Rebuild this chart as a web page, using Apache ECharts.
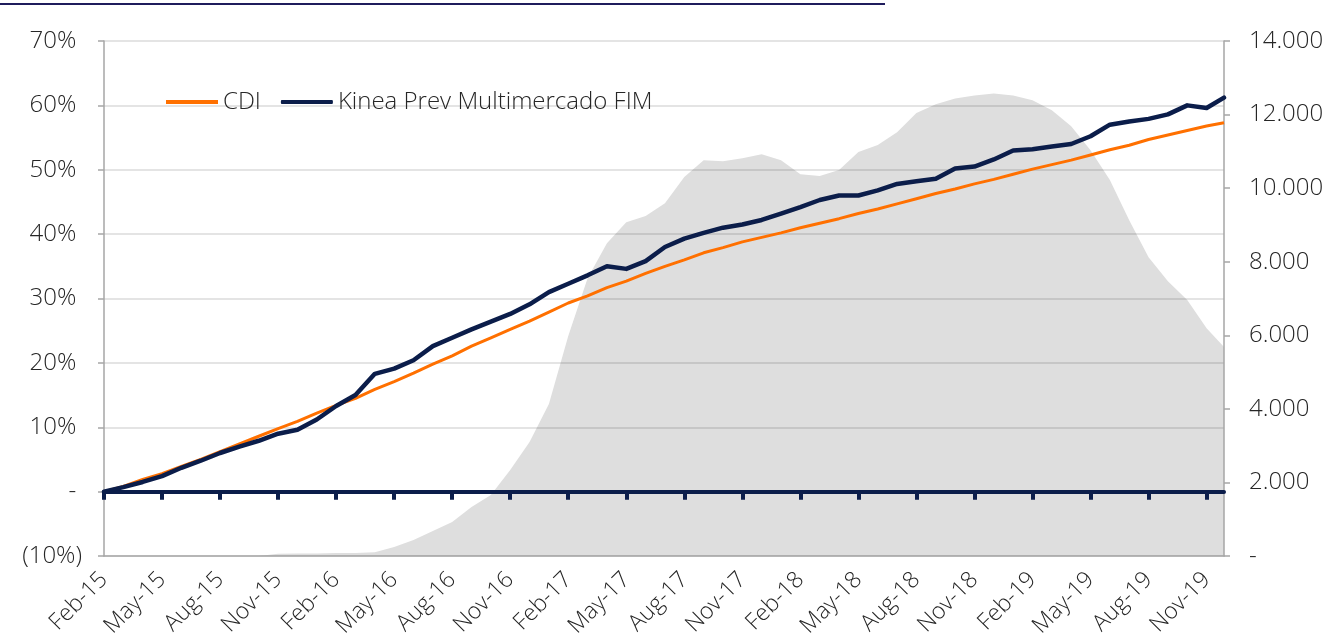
<!DOCTYPE html>
<html><head><meta charset="utf-8">
<script src="https://cdn.jsdelivr.net/npm/echarts@6/dist/echarts.min.js"></script>
<style>html,body{margin:0;padding:0;background:#fff}#c{width:1326px;height:638px}</style>
</head><body><div id="c"></div>
<script>
// x position: months elapsed since the start of Feb-2015
const months = [0,1,2,3,4,5,6,7,8,9,10,11,12,13,14,15,16,17,18,19,20,21,22,23,24,25,26,27,28,29,30,31,32,33,34,35,36,37,38,39,40,41,42,43,44,45,46,47,48,49,50,51,52,53,54,55,56,57,57.9];
const tickMonths = [0,3,6,9,12,15,18,21,24,27,30,33,36,39,42,45,48,51,54,57];
const tickLabels = ['Feb-15','May-15','Aug-15','Nov-15','Feb-16','May-16','Aug-16','Nov-16','Feb-17','May-17','Aug-17','Nov-17','Feb-18','May-18','Aug-18','Nov-18','Feb-19','May-19','Aug-19','Nov-19'];
// cumulative return, %
const cdi = [0.0,0.8,1.9,2.8,3.9,5.0,6.2,7.4,8.6,9.8,10.9,12.2,13.4,14.5,15.9,17.1,18.4,19.8,21.1,22.6,23.9,25.2,26.5,27.9,29.3,30.4,31.7,32.7,33.9,35.0,36.0,37.1,37.9,38.8,39.5,40.2,41.0,41.7,42.4,43.2,43.9,44.7,45.5,46.3,47.0,47.8,48.5,49.3,50.1,50.8,51.5,52.3,53.1,53.8,54.7,55.4,56.1,56.8,57.3];
const kinea = [0.0,0.7,1.5,2.4,3.7,4.8,6.0,7.0,7.9,9.0,9.6,11.2,13.3,15.0,18.3,19.1,20.4,22.6,23.9,25.2,26.4,27.6,29.1,31.0,32.3,33.6,35.0,34.6,35.8,38.0,39.3,40.2,41.0,41.5,42.2,43.2,44.2,45.3,46.0,46.0,46.8,47.8,48.2,48.6,50.2,50.5,51.6,53.0,53.2,53.6,54.0,55.2,57.0,57.5,57.9,58.6,60.0,59.6,61.2];
// net assets (right axis)
const aum = [0,0,0,0,0,0,0,0,0,60,70,70,80,80,100,245,435,680,925,1330,1660,2340,3100,4130,5980,7550,8500,9075,9240,9590,10300,10760,10730,10810,10920,10760,10380,10330,10490,10980,11170,11520,12040,12280,12440,12520,12570,12520,12390,12120,11680,11030,10220,9130,8120,7470,6960,6190,5680];

const FONT = '"Open Sans", "Noto Sans", sans-serif';
const TXT = '#262626';
const NAVY = '#0b1d4a';
const ORANGE = '#ff7000';
const AXISGRAY = '#a6a6a6';
const pair = arr => months.map((m, i) => [m, arr[i]]);

const chart = echarts.init(document.getElementById('c'), null, {renderer: 'canvas'});
chart.setOption({
  animation: false,
  backgroundColor: '#ffffff',
  textStyle: {fontFamily: FONT},
  graphic: [{type: 'rect', left: 0, top: 3, shape: {width: 885, height: 2}, style: {fill: '#1f1c5c'}}],
  grid: {left: 104, right: 102, top: 41, bottom: 82, containLabel: false, outerBoundsMode: 'none'},
  legend: {
    left: 166, top: 90, padding: 0, itemWidth: 52, itemHeight: 4, itemGap: 20,
    textStyle: {fontFamily: FONT, fontSize: 24, fontWeight: 300, color: TXT},
    data: [{name: 'CDI', icon: 'rect'}, {name: 'Kinea Prev Multimercado FIM', icon: 'roundRect'}]
  },
  xAxis: [
    {
      type: 'value', min: 0, max: 57.9, position: 'bottom', z: 2,
      axisLine: {onZero: false, lineStyle: {color: AXISGRAY, width: 1.5}},
      axisTick: {show: false},
      splitLine: {show: false},
      axisLabel: {
        customValues: tickMonths, rotate: 45, margin: 20,
        fontFamily: FONT, fontSize: 23, fontWeight: 300, color: TXT,
        formatter: v => { const i = tickMonths.indexOf(Math.round(v)); return i >= 0 ? tickLabels[i] : ''; }
      }
    },
    {
      type: 'value', min: 0, max: 57.9, position: 'bottom', z: 4,
      axisLine: {onZero: true, onZeroAxisIndex: 0, lineStyle: {color: NAVY, width: 4}},
      axisTick: {show: true, customValues: tickMonths, length: 8, lineStyle: {color: NAVY, width: 4}},
      axisLabel: {show: false},
      splitLine: {show: false}
    }
  ],
  yAxis: [
    {
      type: 'value', min: -10, max: 70, interval: 10, position: 'left', z: 2,
      axisLine: {show: true, onZero: false, lineStyle: {color: AXISGRAY, width: 1.5}},
      axisTick: {show: true, length: 6, lineStyle: {color: AXISGRAY, width: 1.5}},
      splitLine: {show: true, lineStyle: {color: 'rgba(0,0,0,0.14)', width: 1.5}},
      axisLabel: {
        margin: 22, fontFamily: FONT, fontSize: 24, fontWeight: 300, color: TXT,
        formatter: v => v < 0 ? '(' + Math.abs(v) + '%)' : (v === 0 ? '-\u2008' : v + '%\u2008')
      }
    },
    {
      type: 'value', min: 0, max: 14000, interval: 2000, position: 'right', z: 2,
      axisLine: {show: true, onZero: false, lineStyle: {color: AXISGRAY, width: 1.5}},
      axisTick: {show: true, length: 6, lineStyle: {color: AXISGRAY, width: 1.5}},
      splitLine: {show: false},
      axisLabel: {
        margin: 25, fontFamily: FONT, fontSize: 24, fontWeight: 300, color: TXT,
        formatter: v => v === 0 ? '-' : (v / 1000).toFixed(3)
      }
    }
  ],
  series: [
    {
      name: 'PL', type: 'line', xAxisIndex: 0, yAxisIndex: 1, z: 1,
      data: pair(aum), symbol: 'none', silent: true,
      lineStyle: {width: 0, color: '#dedede'},
      itemStyle: {color: '#dedede'},
      areaStyle: {color: '#dedede', opacity: 1}
    },
    {
      name: 'CDI', type: 'line', xAxisIndex: 0, yAxisIndex: 0, z: 5,
      data: pair(cdi), symbol: 'none',
      lineStyle: {width: 3, color: ORANGE}, itemStyle: {color: ORANGE}
    },
    {
      name: 'Kinea Prev Multimercado FIM', type: 'line', xAxisIndex: 0, yAxisIndex: 0, z: 6,
      data: pair(kinea), symbol: 'none',
      lineStyle: {width: 4.5, color: NAVY, cap: 'round', join: 'round'}, itemStyle: {color: NAVY}
    }
  ]
});
</script></body></html>
